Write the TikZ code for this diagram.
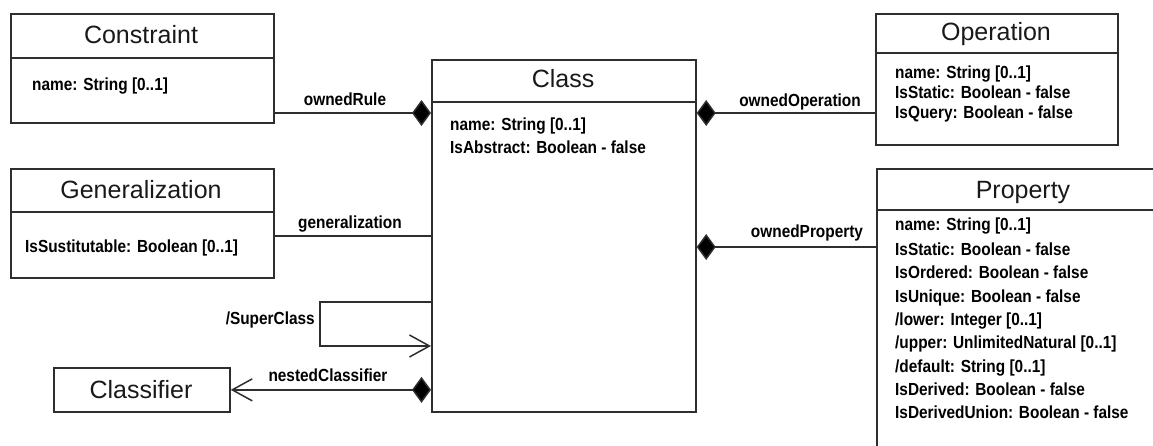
\documentclass[tikz,border=0pt]{standalone}
\usepackage{fontspec}
\usetikzlibrary{arrows.meta}
\newfontfamily\titlefam{Liberation Sans}
\newfontfamily\attrfam[FakeStretch=0.88]{Liberation Sans}
\newcommand{\titlefnt}{\titlefam\fontsize{25}{29}\selectfont}
\newcommand{\attrfnt}{\attrfam\bfseries\fontsize{17.5}{20}\selectfont}
\tikzset{
  umlbox/.style={draw=black!82, line width=1.7pt, anchor=north west, inner sep=0pt},
  divider/.style={draw=black!82, line width=1.7pt},
  boxtitle/.style={font=\titlefnt, text=black!90, inner sep=0pt, anchor=base},
  attr/.style={font=\attrfnt, text=black, anchor=base west, inner sep=0pt},
  assoclabel/.style={font=\attrfnt, text=black, inner sep=0pt, anchor=base},
  link/.style={draw=black!82, line width=1.5pt},
  comp/.style={link, -{Diamond[length=19pt,width=26pt,fill=black]}},
  navi/.style={link, -{Straight Barb[length=20pt,width=22pt]}},
}
\begin{document}
\begin{tikzpicture}[x=1pt,y=-1pt]
\useasboundingbox (0,0) rectangle (1153,446);
\clip (0,0) rectangle (1153,446);

% --- class boxes ---
\node[umlbox, minimum width=263pt, minimum height=109pt] (constraint) at (10,13) {};
\draw[divider] (constraint.west |- 0,58) -- (constraint.east |- 0,58);
\node[boxtitle] (constraintT) at (141,44) {Constraint};
\node[attr] (constraintA) at (32,91) {name: String [0..1]};

\node[umlbox, minimum width=263pt, minimum height=109pt] (general) at (10,168) {};
\draw[divider] (general.west |- 0,212) -- (general.east |- 0,212);
\node[boxtitle] (generalT) at (141,199) {Generalization};
\node[attr] (generalA) at (25,253) {IsSustitutable: Boolean [0..1]};

\node[umlbox, minimum width=176pt, minimum height=44pt] (classifier) at (53,367) {};
\node[boxtitle] (classifierT) at (141,398) {Classifier};

\node[umlbox, minimum width=264pt, minimum height=352pt] (class) at (431,59) {};
\draw[divider] (class.west |- 0,102) -- (class.east |- 0,102);
\node[boxtitle] (classT) at (563,88) {Class};
\node[attr] (classA1) at (450,131) {name: String [0..1]};
\node[attr] (classA2) at (450,154) {IsAbstract: Boolean - false};

\node[umlbox, minimum width=242pt, minimum height=131pt] (operation) at (875,13) {};
\draw[divider] (operation.west |- 0,53) -- (operation.east |- 0,53);
\node[boxtitle] (operationT) at (996,41) {Operation};
\node[attr] (operationA1) at (895,79) {name: String [0..1]};
\node[attr] (operationA2) at (895,99) {IsStatic: Boolean - false};
\node[attr] (operationA3) at (895,119) {IsQuery: Boolean - false};

\node[umlbox, minimum width=294pt, minimum height=300pt] (property) at (876,168) {};
\draw[divider] (property.west |- 0,210) -- (property.east |- 0,210);
\node[boxtitle] (propertyT) at (1023,199) {Property};
\node[attr] (propertyA1) at (895,231) {name: String [0..1]};
\node[attr] (propertyA2) at (895,255) {IsStatic: Boolean - false};
\node[attr] (propertyA3) at (895,278) {IsOrdered: Boolean - false};
\node[attr] (propertyA4) at (895,302) {IsUnique: Boolean - false};
\node[attr] (propertyA5) at (895,325) {/lower: Integer [0..1]};
\node[attr] (propertyA6) at (895,348) {/upper: UnlimitedNatural [0..1]};
\node[attr] (propertyA7) at (895,372) {/default: String [0..1]};
\node[attr] (propertyA8) at (895,395) {IsDerived: Boolean - false};
\node[attr] (propertyA9) at (895,418) {IsDerivedUnion: Boolean - false};

% --- associations ---
\draw[comp] (constraint.east |- 0,113) -- (class.west |- 0,113);
\node[assoclabel] (ruleL) at (345,106) {ownedRule};

\draw[link] (general.east |- 0,236) -- (class.west |- 0,236);
\node[assoclabel] (generalL) at (350,229) {generalization};

\draw[comp] (operation.west |- 0,113) -- (class.east |- 0,113);
\node[assoclabel] (operationL) at (800,107) {ownedOperation};

\draw[comp] (property.west |- 0,247) -- (class.east |- 0,247);
\node[assoclabel] (propertyL) at (807,238) {ownedProperty};

\coordinate (loopTop) at (320,302);
\coordinate (loopBot) at (320,346);
\draw[navi] (class.west |- loopTop) -- (loopTop) -- (loopBot) -- (class.west |- loopBot);
\node[assoclabel, anchor=base east] (superL) at (315,324) {/SuperClass};

\draw[link, {Straight Barb[length=20pt,width=22pt]}-{Diamond[length=19pt,width=26pt,fill=black]}]
  (classifier.east) -- (class.west |- classifier.east);
\node[assoclabel] (nestedL) at (328,381) {nestedClassifier};
\end{tikzpicture}
\end{document}
